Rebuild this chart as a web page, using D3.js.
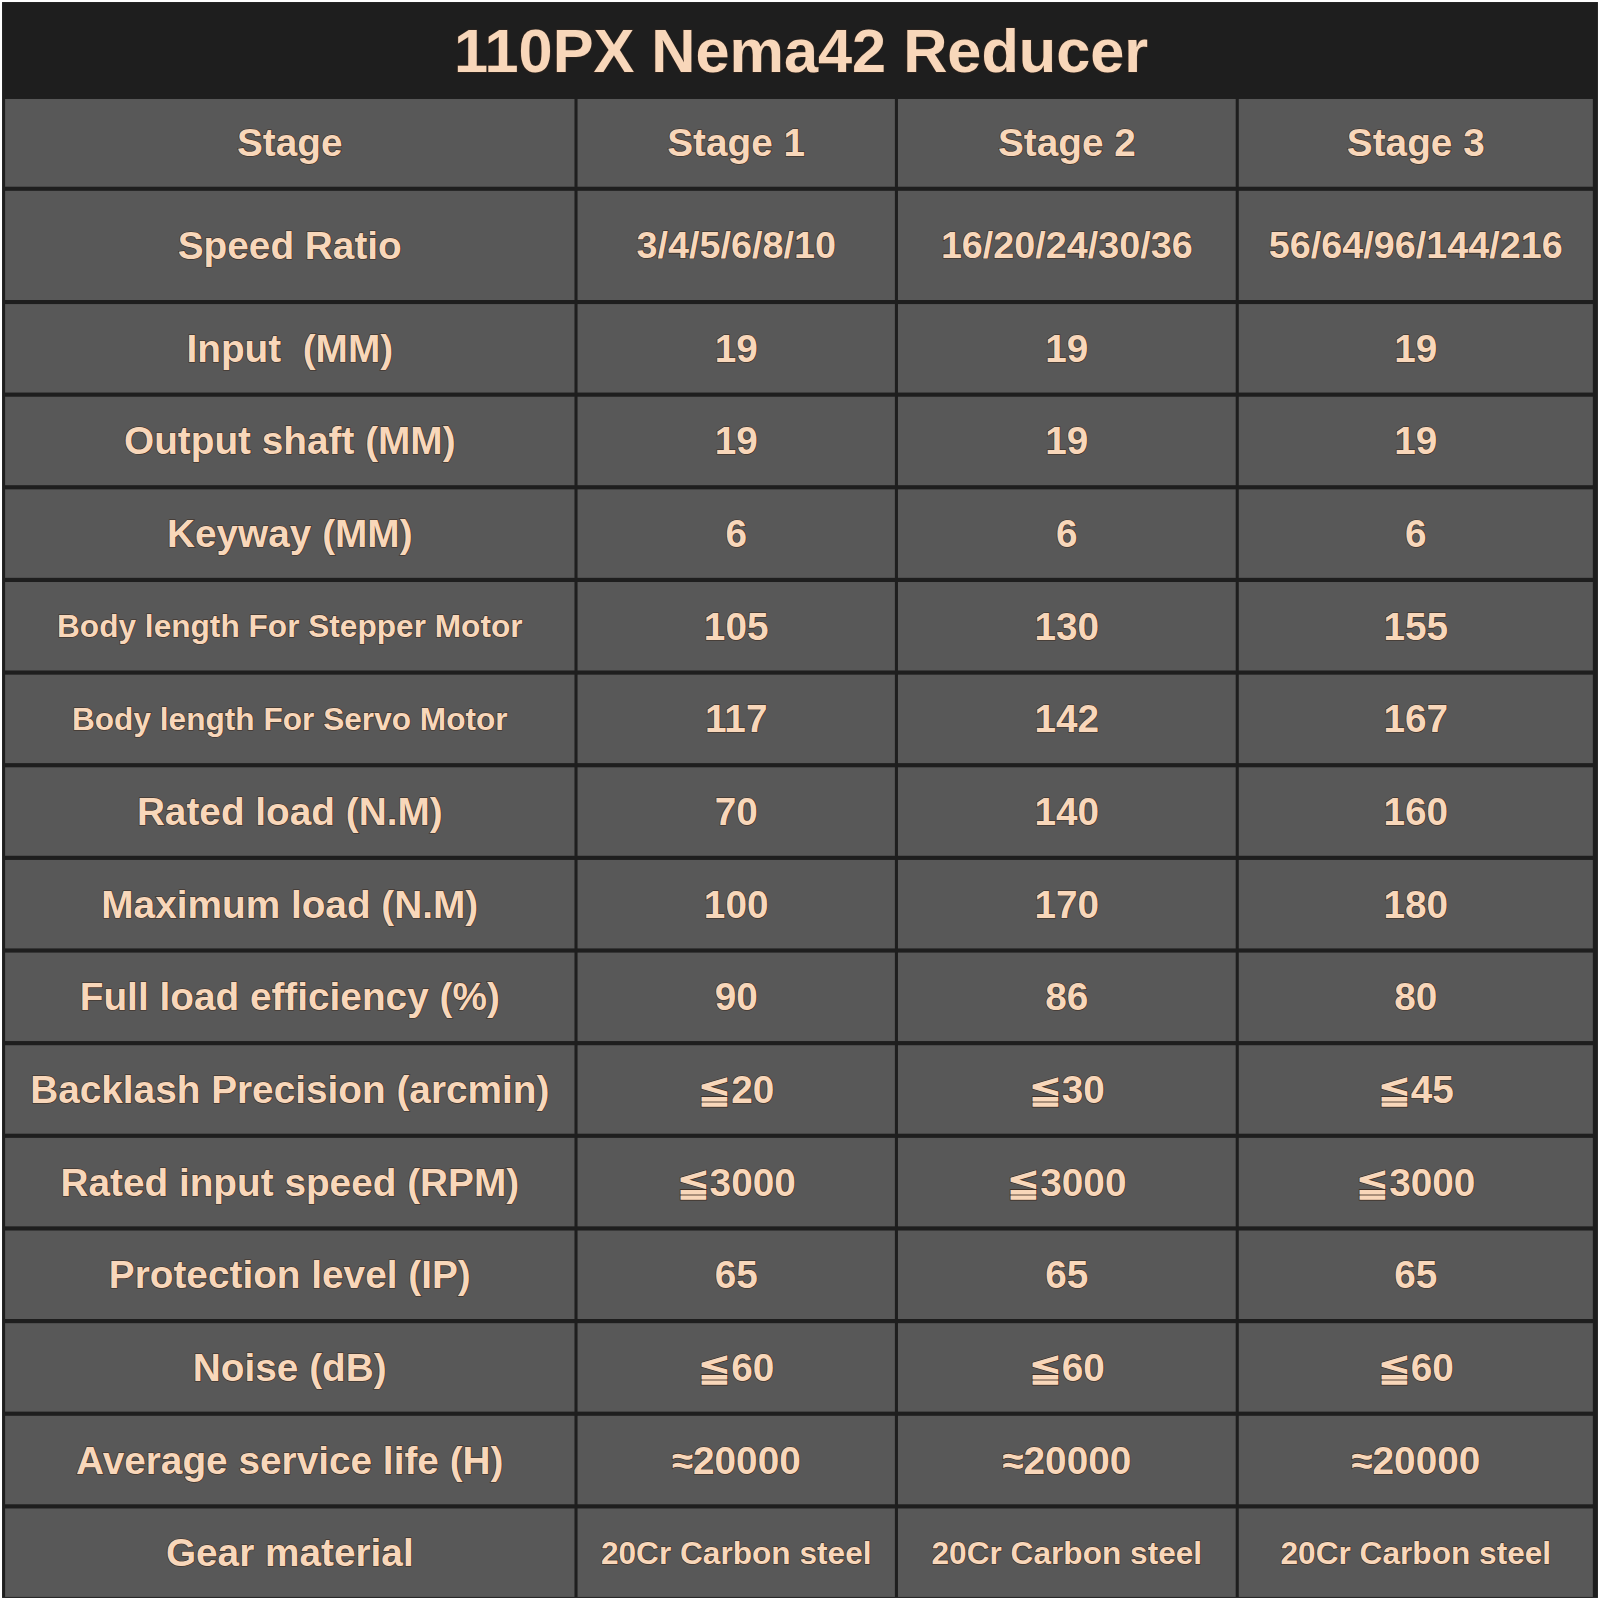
<!DOCTYPE html>
<html><head><meta charset="utf-8">
<script src="https://cdn.jsdelivr.net/npm/d3@7"></script>
<style>body{margin:0;background:#fff}</style></head>
<body><script>
const title = "110PX Nema42 Reducer";
const columns = ["Stage", "Stage 1", "Stage 2", "Stage 3"];
const rowLabels = ["Speed Ratio","Input  (MM)","Output shaft (MM)","Keyway (MM)","Body length For Stepper Motor","Body length For Servo Motor","Rated load (N.M)","Maximum load (N.M)","Full load efficiency (%)","Backlash Precision (arcmin)","Rated input speed (RPM)","Protection level (IP)","Noise (dB)","Average service life (H)","Gear material"];
const stage1 = ["3/4/5/6/8/10","19","19","6","105","117","70","100","90","≦20","≦3000","65","≦60","≈20000","20Cr Carbon steel"];
const stage2 = ["16/20/24/30/36","19","19","6","130","142","140","170","86","≦30","≦3000","65","≦60","≈20000","20Cr Carbon steel"];
const stage3 = ["56/64/96/144/216","19","19","6","155","167","160","180","80","≦45","≦3000","65","≦60","≈20000","20Cr Carbon steel"];

const W=1600,H=1600;
const root=d3.select("body").append("svg").attr("width",W).attr("height",H);
const svg=root.append("g").attr("transform","scale(1.0204)");
svg.append("rect").attr("x",2).attr("y",2).attr("width",1564).attr("height",1564).attr("fill","#1e1e1e");
const colEdges=[5,566,880,1214,1564];
const x=d3.scaleOrdinal().domain(columns).range(colEdges.slice(0,4));
const cw=i=>colEdges[i+1]-colEdges[i]-3;
const rows=["__head"].concat(rowLabels);
const yRest=d3.scaleBand().domain(rowLabels.slice(1)).range([298,1565]).paddingInner(0.045).paddingOuter(0);
function rowBox(r){
  if(r==="__head") return [97,86];
  if(r==="Speed Ratio") return [187,107];
  return [yRest(r),yRest.bandwidth()];
}
const tc="#f8d7ba";
function txt(xc,yc,s,size){
  svg.append("text").attr("x",xc).attr("y",yc).attr("text-anchor","middle").attr("dominant-baseline","central")
   .attr("xml:space","preserve").style("white-space","pre")
   .attr("font-family","Liberation Sans, Arial, sans-serif").attr("font-weight","bold").attr("font-size",size)
   .attr("fill",tc).attr("stroke","#3a2a20").attr("stroke-width",1.2).attr("paint-order","stroke").text(s);
}
txt(785,50,title,60);
rows.forEach((r,ri)=>{
  const [y0,h]=rowBox(r);
  const vals = r==="__head"?columns:[r,stage1[ri-1],stage2[ri-1],stage3[ri-1]];
  vals.forEach((v,ci)=>{
    const x0=x(columns[ci]);
    svg.append("rect").attr("x",x0).attr("y",y0).attr("width",cw(ci)).attr("height",h).attr("fill","#585858");
    let size=38;
    if(ci===0 && r.startsWith("Body")) size=31;
    if(ci===0 && r.startsWith("Backlash")) size=38;
    if(ci>0 && r==="Speed Ratio") size=37;
    if(ci>0 && r==="Gear material") size=31;
    txt(x0+cw(ci)/2,y0+h/2,v,size);
  });
});
</script></body></html>
